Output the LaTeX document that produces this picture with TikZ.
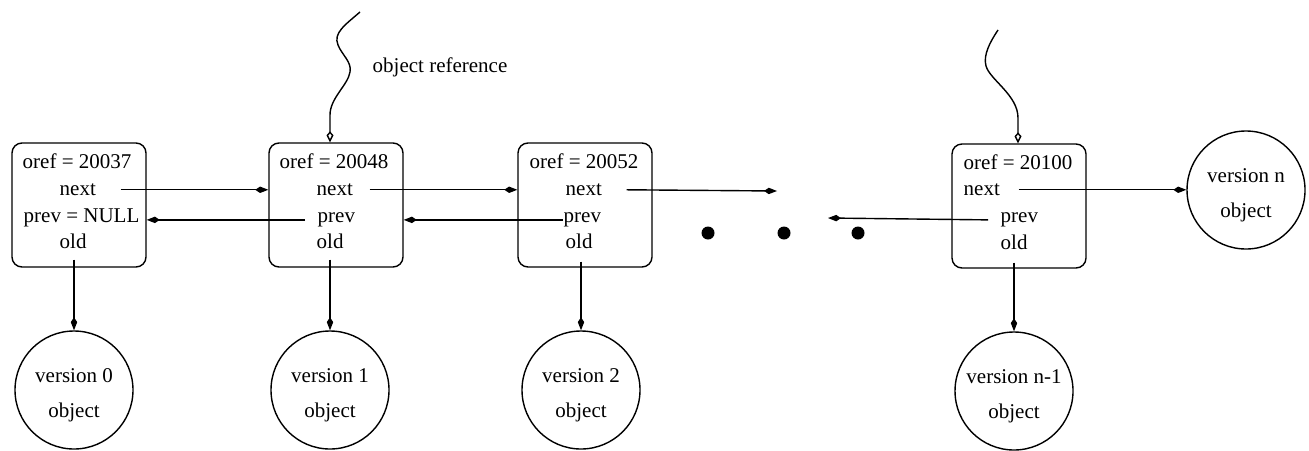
\documentclass[tikz,border=0pt]{standalone}
\usepackage{fontspec}
\setmainfont{Liberation Serif}
\usetikzlibrary{arrows.meta,calc}
\begin{document}
\begin{tikzpicture}[x=0.5pt,y=-0.5pt,line width=0.7pt,
  every node/.style={font=\fontsize{10.5}{17.5}\selectfont},
  rec/.style={draw, rounded corners=5pt, minimum width=67pt, minimum height=62pt, inner sep=0},
  fld/.style={inner sep=0, anchor=mid west},
  obj/.style={draw, circle, minimum size=59pt, inner sep=0},
  vtext/.style={align=center, inner sep=0, yshift=-2.5pt},
  dot/.style={circle, fill, minimum size=6.5pt, inner sep=0},
  link/.style={-{Kite[length=6.5pt,width=3.2pt,inset=2.4pt]}},
  ref/.style={-{Kite[open,length=5.5pt,width=3.5pt,inset=2pt]}}]
\useasboundingbox (0,0) rectangle (1309,450);

% version records
\node[rec] (b1) at (79,205) {};
\node[rec] (b2) at (336,205) {};
\node[rec] (b3) at (585,205) {};
\node[rec] (b4) at (1019,206) {};

% record fields
\node[fld] (o1) at (22,164) {oref = 20037};
\node[fld] (n1) at (59,191) {next};
\node[fld] (p1) at (23,218) {prev = NULL};
\node[fld] (l1) at (59,244) {old};

\node[fld] (o2) at (279,164) {oref = 20048};
\node[fld] (n2) at (316,191) {next};
\node[fld] (p2) at (317,218) {prev};
\node[fld] (l2) at (316,244) {old};

\node[fld] (o3) at (529,164) {oref = 20052};
\node[fld] (n3) at (565,191) {next};
\node[fld] (p3) at (563,218) {prev};
\node[fld] (l3) at (565,244) {old};

\node[fld] (o4) at (963,165) {oref = 20100};
\node[fld] (n4) at (963,191) {next};
\node[fld] (p4) at (1000,218) {prev};
\node[fld] (l4) at (1000,245) {old};

% object versions
\node[obj, label={[vtext]center:version 0\\object}] (c0) at (74,390) {};
\node[obj, label={[vtext]center:version 1\\object}] (c1) at (330,390) {};
\node[obj, label={[vtext]center:version 2\\object}] (c2) at (581,390) {};
\node[obj, label={[vtext]center:version n-1\\object}] (cm) at (1014,391) {};
\node[obj, label={[vtext]center:version n\\object}] (cn) at (1246,190) {};

% elided part of the chain
\node[dot] (d1) at (708,233) {};
\node[dot] (d2) at (784,233) {};
\node[dot] (d3) at (858,233) {};
\coordinate (e3) at (777,191);
\coordinate (e4) at (828,218);

% next / prev links
\draw[link] ([xshift=12pt]n1.east) -- (n1 -| b2.west);
\draw[link] ([xshift=-6pt]p2.west) -- (p2 -| b1.east);
\draw[link] ([xshift=8pt]n2.east) -- (n2 -| b3.west);
\draw[link] (p3.west) -- (p3 -| b2.east);
\draw[link] ([xshift=12pt]n3.east) -- (e3);
\draw[link] ([xshift=-6pt]p4.west) -- (e4);
\draw[link] ([xshift=9pt]n4.east) -- (n4 -| cn.west);

% old links
\draw[link] ($(l1.south -| c0.north)+(0,10)$) -- (c0.north);
\draw[link] ($(l2.south -| c1.north)+(0,10)$) -- (c1.north);
\draw[link] ($(l3.south -| c2.north)+(0,12)$) -- (c2.north);
\draw[link] ($(l4.south -| cm.north)+(0,12)$) -- (cm.north);

% object references
\coordinate (w1) at (360,12);
\coordinate (w2) at (998,30);
\draw[ref] (w1) .. controls (345,25) and (333,33) .. (338,45)
  .. controls (342,55) and (352,62) .. (350,72)
  .. controls (348,85) and (330,98) .. (330,115) -- ($(b2.north)+(-6,0)$);
\draw[ref] (w2) .. controls (990,42) and (983,55) .. (986,66)
  .. controls (990,80) and (1018,95) .. (1018,118) -- ($(b4.north)+(-1,0)$);
\node[fld] (lbl) at (372,68) {object reference};
\end{tikzpicture}
\end{document}
